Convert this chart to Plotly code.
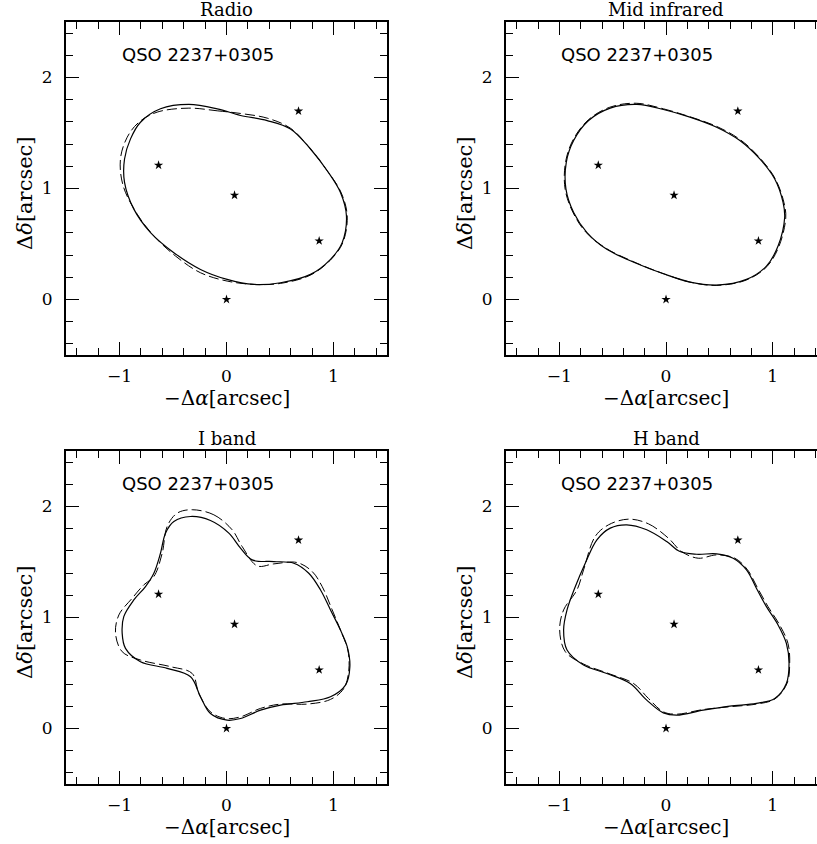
import plotly.graph_objects as go

# ---------------- data ----------------
star_x = [0.0, 0.673, -0.635, 0.866, 0.075]
star_y = [0.0, 1.697, 1.210, 0.528, 0.939]

panel_titles = ["Radio", "Mid infrared", "I band", "H band"]
label_text = "QSO 2237+0305"

radio_solid_x = [-0.352, -0.087, 0.131, 0.380, 0.598, 0.785, 0.941, 1.065, 1.121, 1.081, 0.972, 0.785,
                 0.505, 0.255, 0.006, -0.243, -0.492, -0.710, -0.866, -0.953, -0.953, -0.897, -0.804, -0.617]
radio_solid_y = [1.757, 1.718, 1.658, 1.612, 1.537, 1.356, 1.160, 0.964, 0.753, 0.512, 0.362, 0.226,
                 0.151, 0.136, 0.181, 0.271, 0.422, 0.603, 0.814, 1.055, 1.266, 1.447, 1.597, 1.718]
radio_dash_x = [-0.352, -0.087, 0.131, 0.380, 0.598, 0.785, 0.941, 1.071, 1.128, 1.087, 0.972, 0.785,
                0.505, 0.255, 0.006, -0.243, -0.477, -0.679, -0.835, -0.966, -0.991, -0.928, -0.819, -0.648]
radio_dash_y = [1.724, 1.700, 1.676, 1.634, 1.543, 1.356, 1.160, 0.964, 0.753, 0.512, 0.356, 0.220,
                0.145, 0.136, 0.166, 0.241, 0.392, 0.573, 0.769, 1.025, 1.266, 1.462, 1.597, 1.688]

mir_solid_x = [-0.274, -0.025, 0.224, 0.474, 0.692, 0.879, 1.019, 1.097, 1.112, 1.050, 0.941, 0.754,
               0.474, 0.224, -0.025, -0.274, -0.555, -0.741, -0.866, -0.938, -0.935, -0.866, -0.726, -0.523]
mir_solid_y = [1.757, 1.712, 1.643, 1.552, 1.432, 1.266, 1.085, 0.874, 0.738, 0.482, 0.301, 0.181,
               0.130, 0.157, 0.232, 0.325, 0.452, 0.603, 0.784, 0.995, 1.236, 1.432, 1.612, 1.724]
mir_dash_x = [-0.280, -0.025, 0.224, 0.478, 0.698, 0.885, 1.025, 1.105, 1.122, 1.058, 0.945, 0.754,
              0.474, 0.224, -0.030, -0.280, -0.560, -0.748, -0.872, -0.946, -0.942, -0.872, -0.730, -0.528]
mir_dash_y = [1.768, 1.718, 1.646, 1.558, 1.438, 1.270, 1.085, 0.874, 0.735, 0.478, 0.296, 0.176,
              0.127, 0.157, 0.235, 0.330, 0.460, 0.603, 0.784, 0.995, 1.236, 1.437, 1.617, 1.732]

iband_solid_x = [-0.336, -0.150, 0.022, 0.131, 0.240, 0.442, 0.629, 0.769, 0.879, 0.972, 1.065, 1.128,
                 1.153, 1.112, 0.972, 0.754, 0.505, 0.318, 0.131, 0.006, -0.150, -0.243, -0.336, -0.555,
                 -0.804, -0.944, -0.975, -0.960, -0.866, -0.757, -0.679, -0.617, -0.570, -0.492]
iband_solid_y = [1.910, 1.874, 1.760, 1.625, 1.519, 1.504, 1.489, 1.399, 1.248, 1.068, 0.887, 0.737,
                 0.557, 0.391, 0.286, 0.241, 0.211, 0.165, 0.090, 0.075, 0.135, 0.286, 0.466, 0.542,
                 0.602, 0.722, 0.857, 1.008, 1.158, 1.279, 1.399, 1.579, 1.760, 1.865]
iband_dash_x = [-0.321, -0.118, 0.053, 0.146, 0.287, 0.442, 0.660, 0.801, 0.894, 0.988, 1.071, 1.134,
                1.143, 1.097, 0.972, 0.754, 0.505, 0.318, 0.131, -0.009, -0.150, -0.259, -0.321, -0.523,
                -0.804, -0.975, -1.037, -1.006, -0.882, -0.773, -0.679, -0.601, -0.555, -0.461]
iband_dash_y = [1.971, 1.925, 1.790, 1.640, 1.465, 1.483, 1.495, 1.414, 1.279, 1.068, 0.872, 0.707,
                0.526, 0.361, 0.262, 0.220, 0.220, 0.181, 0.105, 0.090, 0.150, 0.316, 0.496, 0.557,
                0.617, 0.692, 0.857, 1.023, 1.173, 1.294, 1.369, 1.579, 1.820, 1.940]

hband_solid_x = [-0.368, -0.181, 0.006, 0.131, 0.287, 0.474, 0.629, 0.754, 0.847, 0.941, 1.050, 1.128,
                 1.153, 1.128, 1.019, 0.847, 0.598, 0.349, 0.100, -0.025, -0.181, -0.336, -0.555, -0.773,
                 -0.928, -0.960, -0.928, -0.850, -0.757, -0.648, -0.523]
hband_solid_y = [1.835, 1.790, 1.685, 1.594, 1.570, 1.573, 1.534, 1.429, 1.264, 1.098, 0.933, 0.767,
                 0.587, 0.406, 0.271, 0.226, 0.202, 0.165, 0.120, 0.141, 0.256, 0.406, 0.496, 0.572,
                 0.707, 0.887, 1.068, 1.279, 1.489, 1.700, 1.805]
hband_dash_x = [-0.352, -0.165, 0.022, 0.146, 0.302, 0.474, 0.645, 0.760, 0.854, 0.956, 1.065, 1.143,
                1.159, 1.134, 1.019, 0.847, 0.598, 0.349, 0.100, -0.025, -0.165, -0.305, -0.523, -0.773,
                -0.944, -0.997, -0.960, -0.835, -0.773, -0.664, -0.539]
hband_dash_y = [1.886, 1.844, 1.715, 1.594, 1.534, 1.564, 1.534, 1.435, 1.273, 1.098, 0.933, 0.767,
                0.587, 0.406, 0.265, 0.220, 0.196, 0.171, 0.129, 0.150, 0.271, 0.406, 0.490, 0.581,
                0.692, 0.887, 1.068, 1.248, 1.429, 1.730, 1.835]

# ---------------- layout geometry ----------------
W, H = 817, 844
xdom_left = [66 / W, 387 / W]
xdom_right = [506 / W, 1.0]
ydom_top = [1 - 355 / H, 1 - 22 / H]
ydom_bot = [1 - 784 / H, 1 - 451 / H]

panels = [
    dict(title=panel_titles[0], s=(radio_solid_x, radio_solid_y), d=(radio_dash_x, radio_dash_y),
         xd=xdom_left, yd=ydom_top, xr=[-1.5, 1.5], right=False),
    dict(title=panel_titles[1], s=(mir_solid_x, mir_solid_y), d=(mir_dash_x, mir_dash_y),
         xd=xdom_right, yd=ydom_top, xr=[-1.5, 1.415], right=True),
    dict(title=panel_titles[2], s=(iband_solid_x, iband_solid_y), d=(iband_dash_x, iband_dash_y),
         xd=xdom_left, yd=ydom_bot, xr=[-1.5, 1.5], right=False),
    dict(title=panel_titles[3], s=(hband_solid_x, hband_solid_y), d=(hband_dash_x, hband_dash_y),
         xd=xdom_right, yd=ydom_bot, xr=[-1.5, 1.415], right=True),
]

SERIF = "DejaVu Serif"
SANS = "DejaVu Sans"


def closed(a):
    return list(a) + [a[0]]


fig = go.Figure()
annotations = []
layout_axes = {}

for i, p in enumerate(panels, start=1):
    xa = "x" if i == 1 else f"x{i}"
    ya = "y" if i == 1 else f"y{i}"
    xkey = "xaxis" if i == 1 else f"xaxis{i}"
    ykey = "yaxis" if i == 1 else f"yaxis{i}"

    fig.add_trace(go.Scatter(
        x=closed(p["s"][0]), y=closed(p["s"][1]), mode="lines",
        line=dict(color="black", width=1.2, shape="spline", smoothing=1.0),
        xaxis=xa, yaxis=ya, hoverinfo="skip", showlegend=False))
    fig.add_trace(go.Scatter(
        x=closed(p["d"][0]), y=closed(p["d"][1]), mode="lines",
        line=dict(color="black", width=1.0, shape="spline", smoothing=1.0, dash="10px,4px"),
        xaxis=xa, yaxis=ya, hoverinfo="skip", showlegend=False))
    fig.add_trace(go.Scatter(
        x=star_x, y=star_y, mode="markers",
        marker=dict(symbol="star", size=7, color="black", line=dict(width=0)),
        xaxis=xa, yaxis=ya, hoverinfo="skip", showlegend=False))

    axis_common = dict(
        showgrid=False, zeroline=False, showline=True, linecolor="black", linewidth=2,
        ticks="inside", ticklen=13, tickwidth=1.3, tickcolor="black",
        tick0=0, dtick=1,
        minor=dict(tick0=0, dtick=0.2, ticks="inside", ticklen=7, tickwidth=1.3, tickcolor="black"),
        tickfont=dict(family=SERIF, size=17, color="black"),
        fixedrange=True,
    )
    layout_axes[xkey] = dict(axis_common, domain=p["xd"], range=p["xr"], anchor=ya,
                             mirror="ticks", ticklabelstandoff=5)
    layout_axes[ykey] = dict(axis_common, domain=p["yd"], range=[-0.5, 2.5], anchor=xa,
                             mirror=(False if p["right"] else "ticks"), ticklabelstandoff=8)

    # panel title
    annotations.append(dict(text=p["title"], xref=xa, yref=f"{ya} domain", x=0, y=1,
                            xanchor="center", yanchor="bottom", yshift=0, showarrow=False,
                            font=dict(family=SERIF, size=18, color="black")))
    # object label
    annotations.append(dict(text=label_text, xref=xa, yref=ya, x=-0.27, y=2.21,
                            xanchor="center", yanchor="middle", showarrow=False,
                            font=dict(family=SANS, size=18, color="black")))
    # axis titles
    annotations.append(dict(text="−Δ<i>α</i>[arcsec]", xref=xa, yref=f"{ya} domain", x=0, y=0,
                            xanchor="center", yanchor="middle", yshift=-43, showarrow=False,
                            font=dict(family=SERIF, size=20, color="black")))
    annotations.append(dict(text="Δ<i>δ</i>[arcsec]", xref=f"{xa} domain", yref=ya, x=0, y=0.96,
                            xanchor="center", yanchor="middle", xshift=-41, textangle=-90,
                            showarrow=False, font=dict(family=SERIF, size=21, color="black")))

fig.update_layout(
    width=W, height=H, margin=dict(l=0, r=0, t=0, b=0),
    paper_bgcolor="white", plot_bgcolor="white",
    showlegend=False, annotations=annotations, **layout_axes)

fig.write_html(
    "out.html", config={"displayModeBar": False},
    post_script="document.body.style.margin='0px';document.body.style.overflow='hidden';")
